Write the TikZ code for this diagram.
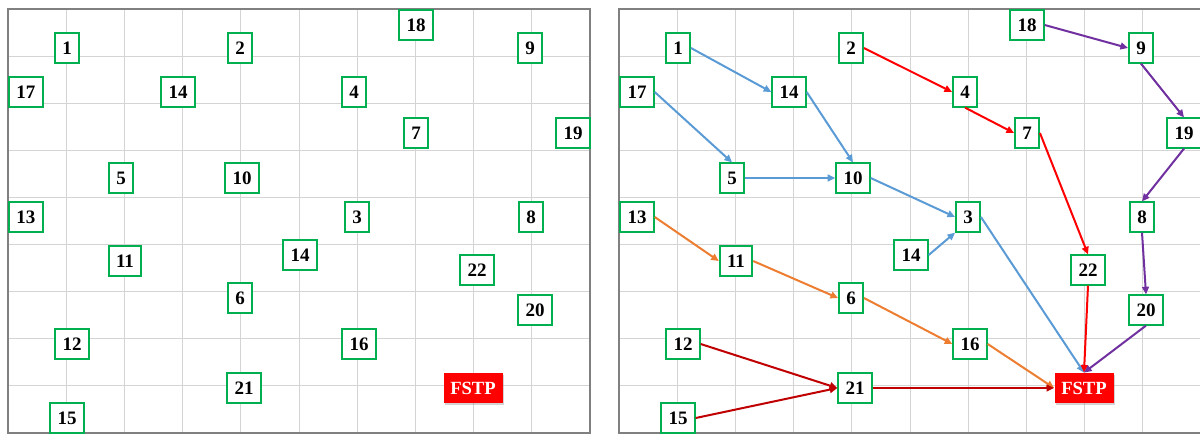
\documentclass[tikz,border=0pt]{standalone}
\usepackage{fontspec}
\setmainfont{Liberation Serif}
\usetikzlibrary{arrows.meta,shadows}
\definecolor{boxgreen}{HTML}{00B050}
\definecolor{gridgray}{HTML}{D4D4D4}
\definecolor{framegray}{HTML}{808080}
\definecolor{cblue}{HTML}{5B9BD5}
\definecolor{cred}{HTML}{FF0000}
\definecolor{cpurple}{HTML}{7030A0}
\definecolor{corange}{HTML}{ED7D31}
\definecolor{cdarkred}{HTML}{C00000}
\tikzset{
  numbox/.style={draw=boxgreen, line width=1pt, fill=white, inner xsep=3.6pt,
    inner ysep=0pt, minimum height=14.6pt,
    font=\fontsize{9.5}{11}\selectfont\bfseries},
  sinkbox/.style={fill=cred, text=white, inner sep=0pt, minimum width=29.5pt,
    minimum height=15pt, font=\fontsize{9.3}{11}\selectfont\bfseries,
    drop shadow={shadow xshift=0.8pt, shadow yshift=-0.8pt, opacity=0.35}},
  gridline/.style={gridgray, line width=0.5pt},
  frameline/.style={framegray, line width=0.75pt},
  link/.style={line width=1pt, -{Triangle[length=3.8pt,width=3.4pt]}}
}
\begin{document}
\begin{tikzpicture}[x=0.5pt,y=-0.5pt]
\useasboundingbox (0,0) rectangle (1200,435);
% grids of both panels
\foreach \ox in {8,619}{
  \foreach \i in {1,...,9}
    \draw[gridline] (\ox+58.2*\i,9) -- (\ox+58.2*\i,433);
  \foreach \j in {1,...,8}
    \draw[gridline] (\ox,9+47.1*\j) -- (\ox+582,9+47.1*\j);
  \draw[frameline] (\ox,9) rectangle (\ox+582,433);
}
% numbered nodes, left panel (L) and right panel (R)
\foreach \n/\t/\x/\y in {1/1/67/48, 2/2/240/48, 17/17/26/92, 14/14/178/92,
    4/4/354/92, 18/18/416/25, 9/9/530/48, 7/7/416/133, 19/19/573/133,
    5/5/121/178, 10/10/242/178, 13/13/26/217, 3/3/357/217, 8/8/531/217,
    11/11/125/261, 14b/14/300/255, 22/22/477/270, 6/6/240/298,
    20/20/535/310, 12/12/72/344, 16/16/359/344, 21/21/244/388,
    15/15/67/418}{
  \node[numbox] (L\n) at (\x,\y) {\t};
  \node[numbox] (R\n) at (\x+611,\y) {\t};
}
\node[sinkbox] (LF) at (473,388) {FSTP};
\node[sinkbox] (RF) at (1084,388) {FSTP};
% blue chain
\draw[link,cblue] (R1.east) -- (R14.west);
\draw[link,cblue] (R14.east) -- (R10.north);
\draw[link,cblue] (R17.east) -- (R5.north);
\draw[link,cblue] (R5.east) -- (R10.west);
\draw[link,cblue] (R10.east) -- (R3.west);
\draw[link,cblue] (R14b.east) -- (R3.south west);
\draw[link,cblue] (R3.east) -- (RF.north);
% red chain
\draw[link,cred] (R2.east) -- (R4.west);
\draw[link,cred] (R4.south) -- (R7.west);
\draw[link,cred] (R7.east) -- (R22.north);
\draw[link,cred] (R22.south) -- (RF.north);
% purple chain
\draw[link,cpurple] (R18.east) -- (R9.west);
\draw[link,cpurple] (R9.south) -- (R19.north);
\draw[link,cpurple] (R19.south) -- (R8.north);
\draw[link,cpurple] (R8.south) -- (R20.north);
\draw[link,cpurple] (R20.south) -- (RF.north);
% orange chain
\draw[link,corange] (R13.east) -- (R11.west);
\draw[link,corange] (R11.east) -- (R6.west);
\draw[link,corange] (R6.east) -- (R16.west);
\draw[link,corange] (R16.east) -- (RF.west);
% dark red chain
\draw[link,cdarkred] (R12.east) -- (R21.west);
\draw[link,cdarkred] (R15.east) -- (R21.west);
\draw[link,cdarkred] (R21.east) -- (RF.west);
\end{tikzpicture}
\end{document}
